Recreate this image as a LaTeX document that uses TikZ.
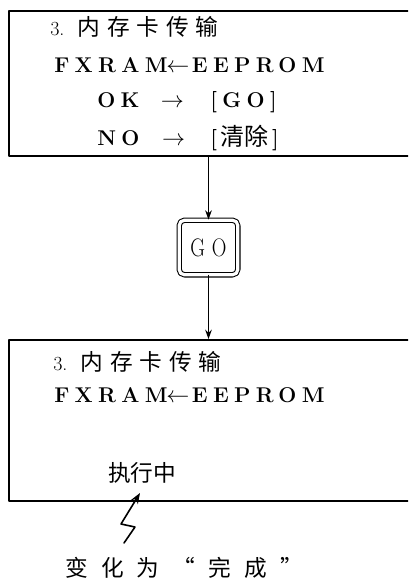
\documentclass[tikz,border=0pt]{standalone}
\usepackage{fontspec}
\usepackage{graphicx}
\newfontfamily\cjk{Noto Sans CJK SC}
\newfontfamily\cjkwide[LetterSpace=30]{Noto Sans CJK SC}
\newfontfamily\cjkwider[LetterSpace=58]{Noto Sans CJK SC}
\newfontfamily\widefont[LetterSpace=25]{Latin Modern Roman}
\usetikzlibrary{arrows.meta,positioning}

\tikzset{
  panel/.style={draw, line width=1.8pt, minimum width=312pt, anchor=north west, inner sep=0pt},
  line/.style={anchor=west, inner sep=0pt},
  title/.style={line, font=\fontsize{17}{17}\selectfont},
  wide/.style={line, font=\widefont\fontsize{16}{16}\selectfont\bfseries},
  gokey/.style={draw, double, double distance=2.4pt, line width=0.8pt, rounded corners=4pt,
    minimum width=44pt, minimum height=41pt, font=\fontsize{19}{19}\selectfont},
  flow/.style={-{Stealth[length=7pt,width=5pt]}, line width=0.8pt},
}

\begin{document}
\begin{tikzpicture}[x=0.75pt, y=-0.75pt, line cap=round, line join=round]
  \useasboundingbox (0,0) rectangle (408,583);
  \clip (0,0) rectangle (408,583);
  % Screen before the key press.
  \node[panel, minimum height=108.75pt] (screenA) at (8,10) {};
  \node[title] (headA) at (50,27) {{\fontsize{15}{15}\selectfont 3.}\hspace{10pt}{\cjkwide\fontsize{17}{17}\selectfont 内存卡传输}};
  \node[wide] (copyA) at (54,65) {FXRAM\kern-1pt$\leftarrow$\kern2pt EEPROM};
  \node[wide] (okA) at (97,102) {OK\hspace{16pt}$\rightarrow$\hspace{20pt}[GO]};
  \node[wide] (noA) at (97,138) {NO\hspace{17pt}$\rightarrow$\hspace{19pt}[\,{\mdseries\cjk\fontsize{18}{18}\selectfont 清除}\,]};
  % The GO key between the two screens.
  \node[gokey] (go) at (208.5,247.5) {\scalebox{0.8}[1]{G\,\,O}};
  % Screen after the key press.
  \node[panel, minimum height=120.75pt] (screenB) at (8,339) {};
  \node[title] (headB) at (53,362) {{\fontsize{15}{15}\selectfont 3.}\hspace{10pt}{\cjkwide\fontsize{17}{17}\selectfont 内存卡传输}};
  \node[wide] (copyB) at (54,395) {FXRAM\kern-1pt$\leftarrow$\kern2pt EEPROM};
  \node[title] (busy) at (108,473) {\cjk 执行中};
  \node[title] (done) at (65,568) {\cjkwider 变化为“完成”};
  % Connectors.
  \draw[flow] (go |- screenA.south) -- (go.north);
  \draw[flow] (go.south) -- (go |- screenB.north);
  % Lightning mark pointing at the status text.
  \coordinate (zap) at (124,543);
  \draw[line width=1.2pt, -{Stealth[length=8pt,width=6pt]}] (zap) -- (135,527) -- (121,524) -- (140,493);
\end{tikzpicture}
\end{document}
